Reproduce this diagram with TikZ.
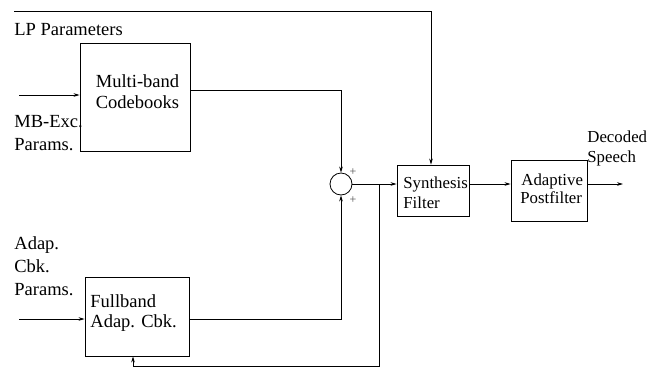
\documentclass[tikz,border=0pt]{standalone}
\usepackage{fontspec}
\setmainfont{Liberation Serif}
\usetikzlibrary{arrows.meta}
\begin{document}
\begin{tikzpicture}[x=1pt,y=-1pt,
  line width=0.8pt,
  blockbox/.style={draw,rectangle,inner sep=0pt},
  sumnode/.style={draw,circle,minimum size=22pt,inner sep=0pt},
  bigtxt/.style={inner sep=0pt,anchor=base west,font=\fontsize{18.5}{22}\selectfont},
  smalltxt/.style={inner sep=0pt,anchor=base west,font=\fontsize{16.8}{20}\selectfont},
  signtxt/.style={inner sep=0pt,font=\fontsize{12}{14}\selectfont,text=black!70},
  arr/.style={-{Stealth[length=6pt,width=3.6pt]}}
]
\useasboundingbox (0,0) rectangle (656,376);

% blocks
\node[blockbox,minimum width=110pt,minimum height=108pt] (mb) at (135,97) {};
\node[blockbox,minimum width=104pt,minimum height=79pt] (fb) at (137,316.5) {};
\node[sumnode] (sum) at (341,184) {};
\node[blockbox,minimum width=72pt,minimum height=51pt] (sf) at (433,190.5) {};
\node[blockbox,minimum width=76pt,minimum height=61pt] (ap) at (549,190.5) {};

% texts
\node[bigtxt] (lp) at (14,35) {LP Parameters};
\node[bigtxt] (mbx1) at (14,127) {MB-Exc.};
\node[bigtxt] (mbx2) at (14,150) {Params.};
\node[bigtxt] (ad1) at (14,249) {Adap.};
\node[bigtxt] (ad2) at (14,272) {Cbk.};
\node[bigtxt] (ad3) at (14,295) {Params.};
\node[bigtxt,anchor=base] (mbt1) at (137.5,87) {Multi-band};
\node[bigtxt,anchor=base] (mbt2) at (137.5,108) {Codebooks};
\node[bigtxt] (fbt1) at (90,307) {Fullband};
\node[bigtxt] (fbt2) at (90,327) {Adap. Cbk.};
\node[smalltxt] (sft1) at (403,188) {Synthesis};
\node[smalltxt] (sft2) at (403,208) {Filter};
\node[smalltxt] (apt1) at (521,185) {Adaptive};
\node[smalltxt] (apt2) at (520,203) {Postfilter};
\node[smalltxt] (ds1) at (587,142) {Decoded};
\node[smalltxt] (ds2) at (587,162) {Speech};
\node[signtxt] (p1) at (353,172) {+};
\node[signtxt] (p2) at (353,200) {+};

% coordinates
\coordinate (lps) at (14,11);
\coordinate (lpc) at (431,11);
\coordinate (mbin) at (19,95);
\coordinate (fbin) at (19,319);
\coordinate (mbl) at (0,90);
\coordinate (fbl) at (0,319);
\coordinate (br) at (379,184);
\coordinate (brd) at (379,366);
\coordinate (fbk) at (133,366);
\coordinate (out) at (623,184);

% connectors
\draw[arr] (lps) -- (lpc) -- (lpc |- sf.north);
\draw[arr] (mbin) -- (mbin -| mb.west);
\draw[arr] (fbin) -- (fbin -| fb.west);
\draw[arr] (mb.east |- mbl) -| (sum.north);
\draw[arr] (fb.east |- fbl) -| (sum.south);
\draw[arr] (sum.east) -- (sum.east -| sf.west);
\draw[arr] (br) -- (brd) -- (fbk) -- (fbk |- fb.south);
\draw[arr] (sf.east |- sum) -- (ap.west |- sum);
\draw[arr] (ap.east |- sum) -- (out);
\end{tikzpicture}
\end{document}
